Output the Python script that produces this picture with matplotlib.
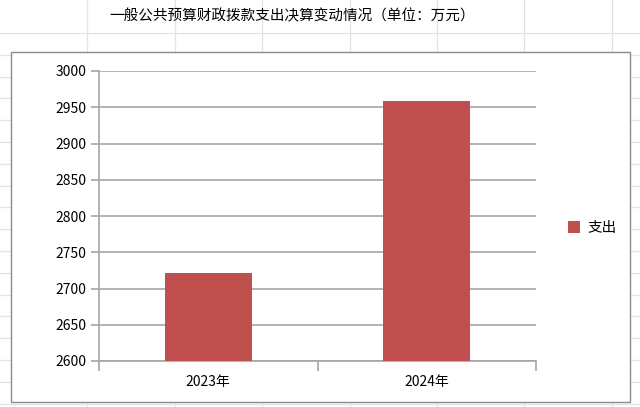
import matplotlib.pyplot as plt
from matplotlib.lines import Line2D
from matplotlib.patches import Rectangle

plt.rcParams['font.family'] = ['Noto Sans CJK SC', 'DejaVu Sans']

# data
years = ["2023年", "2024年"]
spend = [2721, 2958]
title = "一般公共预算财政拨款支出决算变动情况（单位：万元）"
bar_color = "#c0504d"
grid_color = "#a6a6a6"

W, H = 640, 407
fig = plt.figure(figsize=(W / 100, H / 100), dpi=100)

# spreadsheet cell grid in the background
for i in range(1, 8):
    xx = i * 87.4 / W
    fig.add_artist(Line2D([xx, xx], [0, 1], color="#e3e3e3", lw=0.9, zorder=0))
for j in range(0, 19):
    yy = 1 - (33 + j * 21.8) / H
    fig.add_artist(Line2D([0, 1], [yy, yy], color="#e3e3e3", lw=0.9, zorder=0))

# chart box
fig.add_artist(Rectangle((11 / W, 1 - 402 / H), (630 - 11) / W, (402 - 52) / H,
                         facecolor="white", edgecolor="#8c8c8c", lw=1.0, zorder=1))

fig.text(292 / W, 1 - 16 / H, title, ha="center", va="center", fontsize=10.5)

ax = fig.add_axes([99 / W, 1 - 361 / H, (536 - 99) / W, (361 - 71) / H])
ax.set_zorder(2)
ax.patch.set_alpha(0)

x = range(len(years))
ax.bar(x, spend, width=0.4, color=bar_color, zorder=3, label="支出")
ax.set_xlim(-0.5, 1.5)
ax.set_ylim(2600, 3000)
ax.set_yticks(range(2600, 3001, 50))
ax.yaxis.grid(True, color=grid_color, lw=1.2)
ax.set_axisbelow(True)

ax.set_xticks(list(x))
ax.set_xticklabels(years, fontsize=10)
ax.tick_params(axis="x", length=0, pad=10)
ax.tick_params(axis="y", length=6, color=grid_color, width=1.2, labelsize=10, pad=3)
ax.set_xticks([-0.5, 0.5, 1.5], minor=True)
ax.tick_params(axis="x", which="minor", length=7, color=grid_color, width=1.2)

for s in ["top", "right"]:
    ax.spines[s].set_visible(False)
ax.spines["left"].set_color(grid_color)
ax.spines["left"].set_linewidth(1.2)
ax.spines["bottom"].set_color(grid_color)
ax.spines["bottom"].set_linewidth(1.2)

leg = ax.legend(loc="center left", bbox_to_anchor=(555 / W, 1 - 228 / H),
                bbox_transform=fig.transFigure, frameon=False, fontsize=10.5,
                handlelength=0.8, handleheight=0.8, handletextpad=0.5)

fig.savefig("out.png", dpi=100)
